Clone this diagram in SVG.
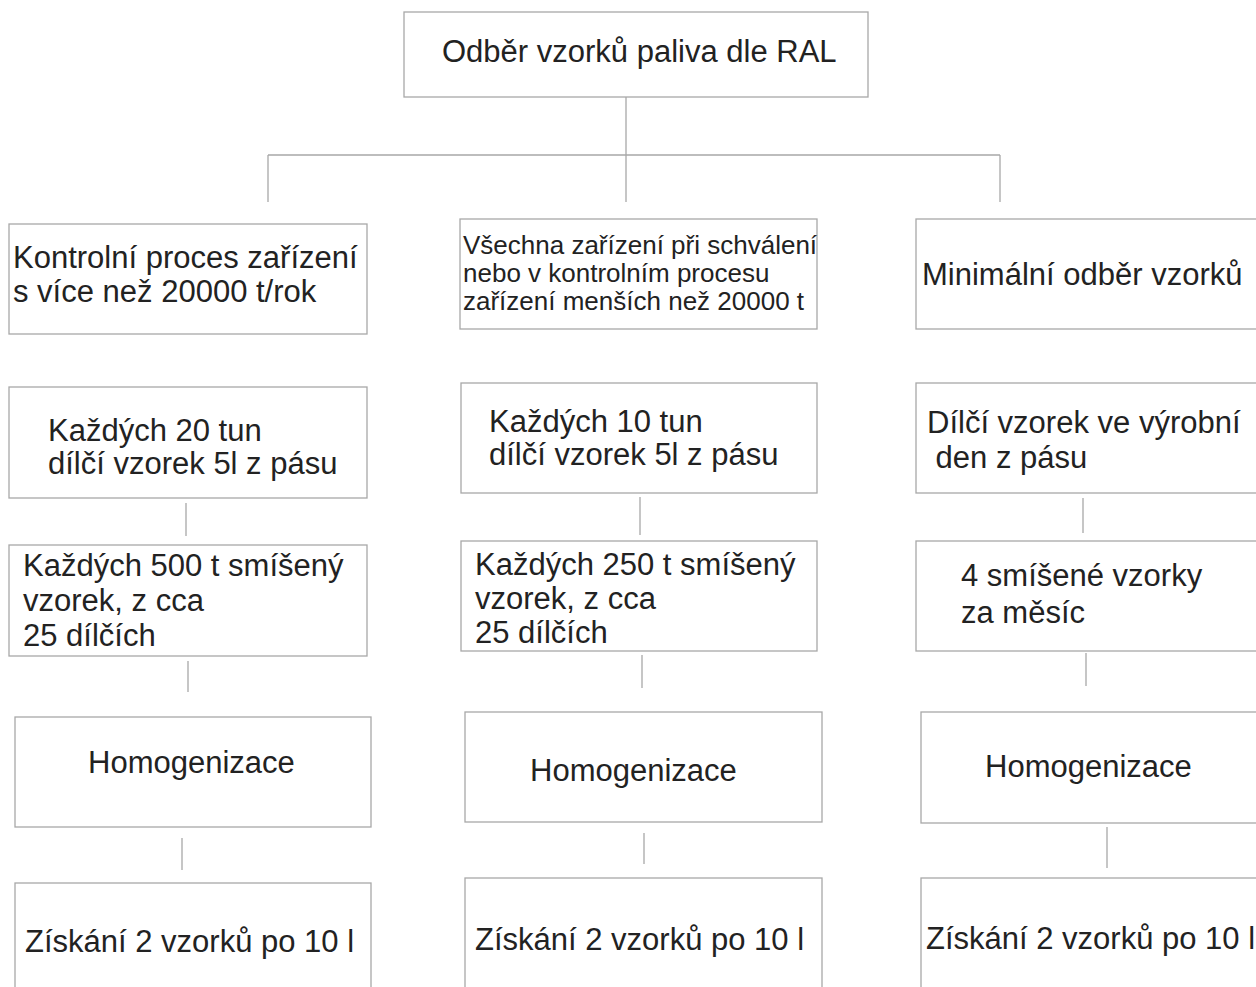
<svg xmlns="http://www.w3.org/2000/svg" width="1256" height="987" viewBox="0 0 1256 987">
<style>
.box{fill:#fff;stroke:#a8a8a8;stroke-width:1.3}
.ln{stroke:#a8a8a8;stroke-width:1.3;fill:none}
.t{font-family:"Liberation Sans",Arial,sans-serif;font-size:31px;fill:#222}
.s{font-size:26px}
</style>
<rect width="1256" height="987" fill="#fff"/>
<g id="connectors">
<path class="ln" d="M626 97V202 M268 155H1000 M268 155V202 M1000 155V202"/>
<path class="ln" d="M186 503V536 M188 661V692 M182 838V870"/>
<path class="ln" d="M640 497V535 M642 655V688 M644 833V864"/>
<path class="ln" d="M1083 498V533 M1086 653V686 M1107 827V868"/>
</g>
<g id="root"><rect class="box" x="404" y="12" width="464" height="85"/><text class="t" x="442" y="62">Odběr vzorků paliva dle RAL</text></g>
<g id="c1n1"><rect class="box" x="9" y="224" width="358" height="110"/><text class="t" x="13" y="268">Kontrolní proces zařízení</text><text class="t" x="13" y="302">s více než 20000 t/rok</text></g>
<g id="c2n1"><rect class="box" x="460" y="219" width="357" height="110"/><text class="t s" x="463" y="254">Všechna zařízení při schválení</text><text class="t s" x="463" y="282">nebo v kontrolním procesu</text><text class="t s" x="463" y="310">zařízení menších než 20000 t</text></g>
<g id="c3n1"><rect class="box" x="916" y="219" width="350" height="110"/><text class="t" x="922" y="285">Minimální odběr vzorků</text></g>
<g id="c1n2"><rect class="box" x="9" y="387" width="358" height="111"/><text class="t" x="48" y="441">Každých 20 tun</text><text class="t" x="48" y="474">dílčí vzorek 5l z pásu</text></g>
<g id="c2n2"><rect class="box" x="461" y="383" width="356" height="110"/><text class="t" x="489" y="432">Každých 10 tun</text><text class="t" x="489" y="465">dílčí vzorek 5l z pásu</text></g>
<g id="c3n2"><rect class="box" x="916" y="383" width="350" height="110"/><text class="t" x="927" y="433">Dílčí vzorek ve výrobní</text><text class="t" x="927" y="468" xml:space="preserve"> den z pásu</text></g>
<g id="c1n3"><rect class="box" x="9" y="545" width="358" height="111"/><text class="t" x="23" y="576">Každých 500 t smíšený</text><text class="t" x="23" y="611">vzorek, z cca</text><text class="t" x="23" y="646">25 dílčích</text></g>
<g id="c2n3"><rect class="box" x="461" y="541" width="356" height="110"/><text class="t" x="475" y="575">Každých 250 t smíšený</text><text class="t" x="475" y="609">vzorek, z cca</text><text class="t" x="475" y="643">25 dílčích</text></g>
<g id="c3n3"><rect class="box" x="916" y="541" width="350" height="110"/><text class="t" x="961" y="586">4 smíšené vzorky</text><text class="t" x="961" y="623">za měsíc</text></g>
<g id="c1n4"><rect class="box" x="15" y="717" width="356" height="110"/><text class="t" x="88" y="773">Homogenizace</text></g>
<g id="c2n4"><rect class="box" x="465" y="712" width="357" height="110"/><text class="t" x="530" y="781">Homogenizace</text></g>
<g id="c3n4"><rect class="box" x="921" y="712" width="345" height="111"/><text class="t" x="985" y="777">Homogenizace</text></g>
<g id="c1n5"><rect class="box" x="15" y="883" width="356" height="120"/><text class="t" x="25" y="952">Získání 2 vzorků po 10 l</text></g>
<g id="c2n5"><rect class="box" x="465" y="878" width="357" height="125"/><text class="t" x="475" y="950">Získání 2 vzorků po 10 l</text></g>
<g id="c3n5"><rect class="box" x="921" y="878" width="345" height="125"/><text class="t" x="926" y="949">Získání 2 vzorků po 10 l</text></g>
</svg>
